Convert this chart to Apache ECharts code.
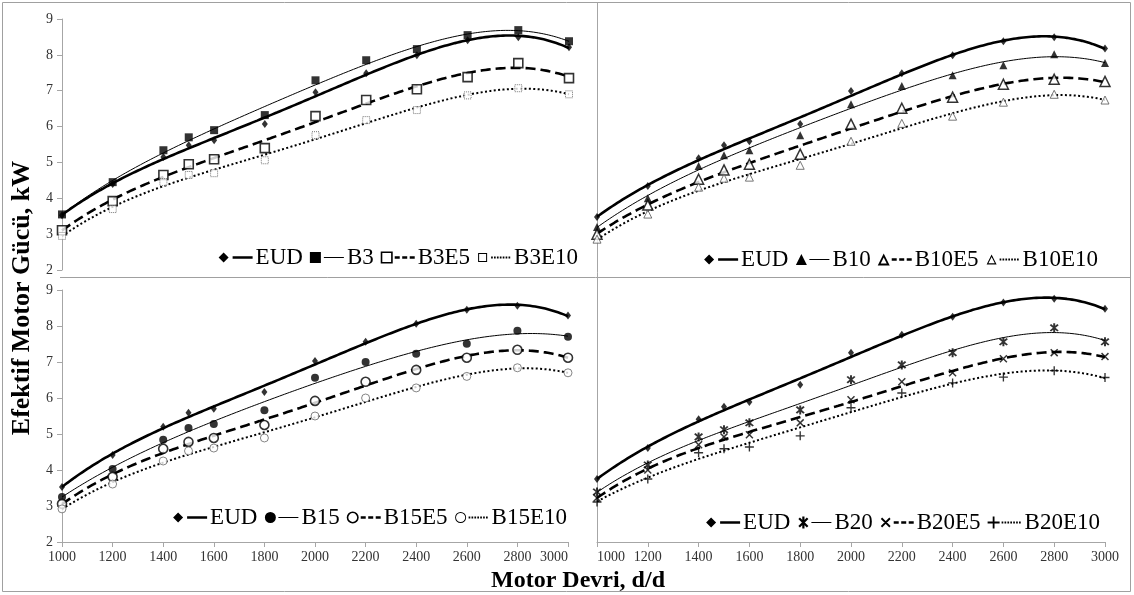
<!DOCTYPE html>
<html>
<head>
<meta charset="utf-8">
<script src="https://cdn.jsdelivr.net/npm/echarts@6/dist/echarts.min.js"></script>
<style>
  html, body { margin: 0; padding: 0; background: #fff; }
  #chart { width: 1134px; height: 595px; }
</style>
</head>
<body>
<div id="chart"></div>
<script>
// engine speed, d/d
const rpm = [1000, 1200, 1400, 1500, 1600, 1800, 2000, 2200, 2400, 2600, 2800, 3000];

// panel 1 - B3 blends
const eud1 = [3.53, 4.40, 5.15, 5.48, 5.62, 6.07, 6.96, 7.49, 7.99, 8.41, 8.49, 8.21];
const b3 = [3.55, 4.45, 5.34, 5.70, 5.90, 6.32, 7.29, 7.85, 8.16, 8.55, 8.69, 8.38];
const b3e5 = [3.11, 3.92, 4.65, 4.95, 5.09, 5.40, 6.29, 6.74, 7.04, 7.38, 7.77, 7.35];
const b3e10 = [2.95, 3.70, 4.45, 4.65, 4.70, 5.06, 5.76, 6.18, 6.46, 6.87, 7.07, 6.90];

// panel 2 - B10 blends
const eud2 = [3.48, 4.34, 5.12, 5.48, 5.59, 6.07, 6.99, 7.49, 7.99, 8.38, 8.49, 8.18];
const b10 = [3.20, 4.00, 4.90, 5.20, 5.34, 5.76, 6.62, 7.13, 7.43, 7.71, 8.02, 7.77];
const b10e5 = [3.00, 3.81, 4.53, 4.79, 4.95, 5.23, 6.07, 6.51, 6.82, 7.18, 7.32, 7.26];
const b10e10 = [2.86, 3.56, 4.31, 4.56, 4.59, 4.92, 5.59, 6.09, 6.29, 6.68, 6.90, 6.74];

// panel 3 - B15 blends
const eud3 = [3.53, 4.42, 5.20, 5.59, 5.70, 6.17, 7.03, 7.56, 8.06, 8.45, 8.56, 8.29];
const b15 = [3.25, 4.03, 4.84, 5.17, 5.28, 5.66, 6.56, 7.00, 7.23, 7.51, 7.87, 7.70];
const b15e5 = [3.06, 3.81, 4.59, 4.78, 4.89, 5.25, 5.92, 6.45, 6.78, 7.12, 7.34, 7.12];
const b15e10 = [2.92, 3.61, 4.25, 4.53, 4.61, 4.89, 5.50, 6.00, 6.28, 6.60, 6.84, 6.70];

// panel 4 - B20 blends
const eud4 = [3.75, 4.61, 5.41, 5.76, 5.89, 6.37, 7.26, 7.76, 8.26, 8.65, 8.76, 8.48];
const b20 = [3.39, 4.14, 4.92, 5.12, 5.31, 5.67, 6.51, 6.92, 7.26, 7.56, 7.95, 7.56];
const b20e5 = [3.22, 4.00, 4.70, 4.92, 4.98, 5.31, 5.95, 6.45, 6.70, 7.09, 7.26, 7.15];
const b20e10 = [3.11, 3.75, 4.48, 4.59, 4.64, 4.95, 5.73, 6.14, 6.42, 6.58, 6.76, 6.57];

const names1 = ['EUD', 'B3', 'B3E5', 'B3E10'];
const names2 = ['EUD', 'B10', 'B10E5', 'B10E10'];
const names3 = ['EUD', 'B15', 'B15E5', 'B15E10'];
const names4 = ['EUD', 'B20', 'B20E5', 'B20E10'];

// ---- trendline (polynomial, like the spreadsheet trendline) ----
const TREND_ORDER = 4;
function polyFit(xs, ys, deg) {
  const n = deg + 1;
  const A = [];
  for (let i = 0; i < n; i++) A.push(new Array(n + 1).fill(0));
  xs.forEach((x, k) => {
    const t = (x - 2000) / 1000;
    for (let i = 0; i < n; i++) {
      for (let j = 0; j < n; j++) A[i][j] += Math.pow(t, i + j);
      A[i][n] += ys[k] * Math.pow(t, i);
    }
  });
  for (let i = 0; i < n; i++) {
    let p = i;
    for (let r = i + 1; r < n; r++) if (Math.abs(A[r][i]) > Math.abs(A[p][i])) p = r;
    [A[i], A[p]] = [A[p], A[i]];
    for (let r = 0; r < n; r++) {
      if (r === i) continue;
      const f = A[r][i] / A[i][i];
      for (let c = i; c <= n; c++) A[r][c] -= f * A[i][c];
    }
  }
  return A.map((row, i) => row[n] / row[i]);
}

function trend(ys) {
  const c = polyFit(rpm, ys, TREND_ORDER);
  const out = [];
  for (let x = 1000; x <= 3000; x += 10) {
    const t = (x - 2000) / 1000;
    out.push([x, c.reduce((s, v, k) => s + v * Math.pow(t, k), 0)]);
  }
  return out;
}

// ---- marker shapes ----
const r2 = v => Math.round(v * 100) / 100;
function bar(cx, cy, len, th, deg) {
  const a = deg * Math.PI / 180, ca = Math.cos(a), sa = Math.sin(a);
  const pts = [[-len / 2, -th / 2], [len / 2, -th / 2], [len / 2, th / 2], [-len / 2, th / 2]]
    .map(([u, v]) => [r2(cx + u * ca - v * sa), r2(cy + u * sa + v * ca)]);
  return 'M' + pts.map(p => p.join(',')).join('L') + 'Z';
}
const sq = (x, y, s) => `M${x},${y}H${x + s}V${y + s}H${x}Z`;
const sqHole = (x, y, s) => `M${x},${y}V${y + s}H${x + s}V${y}Z`;
const tri = (cx, cy, s) => `M${cx},${cy - s / 2}L${cx + s / 2},${cy + s / 2}L${cx - s / 2},${cy + s / 2}Z`;
const triHole = (cx, cy, s) => `M${cx},${cy - s / 2}L${cx - s / 2},${cy + s / 2}L${cx + s / 2},${cy + s / 2}Z`;
const circ = (cx, cy, r) => `M${cx - r},${cy}A${r},${r},0,1,1,${cx + r},${cy}A${r},${r},0,1,1,${cx - r},${cy}Z`;
const circHole = (cx, cy, r) => `M${cx - r},${cy}A${r},${r},0,1,0,${cx + r},${cy}A${r},${r},0,1,0,${cx - r},${cy}Z`;
const asteriskPath = bar(6, 6, 12, 2.2, 45) + bar(6, 6, 12, 2.2, 135) + bar(6, 6, 12, 2.2, 90);
const crossPath = bar(6, 6, 12, 1.8, 45) + bar(6, 6, 12, 1.8, 135);
const plusPath = bar(6, 6, 12, 1.8, 0) + bar(6, 6, 12, 1.8, 90);

// chart markers
const markers = {
  diamond: { symbol: 'diamond', symbolSize: [6, 8], itemStyle: { color: '#000' } },
  square: { symbol: 'rect', symbolSize: 8, itemStyle: { color: '#000' } },
  squareOpen: { symbol: 'rect', symbolSize: 9, itemStyle: { color: '#fff', borderColor: '#000', borderWidth: 1.6 } },
  squareSmall: { symbol: 'rect', symbolSize: 7, itemStyle: { color: '#fff', borderColor: '#555', borderWidth: 1, borderType: 'dotted' } },
  triangle: { symbol: 'triangle', symbolSize: 8, itemStyle: { color: '#000' } },
  triangleOpen: { symbol: 'triangle', symbolSize: 10, itemStyle: { color: '#fff', borderColor: '#000', borderWidth: 1.5 } },
  triangleSmall: { symbol: 'triangle', symbolSize: 8, itemStyle: { color: '#fff', borderColor: '#555', borderWidth: 1 } },
  circle: { symbol: 'circle', symbolSize: 8, itemStyle: { color: '#000' } },
  circleOpen: { symbol: 'circle', symbolSize: 9, itemStyle: { color: '#fff', borderColor: '#000', borderWidth: 1.6 } },
  circleSmall: { symbol: 'circle', symbolSize: 8, itemStyle: { color: '#fff', borderColor: '#666', borderWidth: 1 } },
  asterisk: { symbol: 'path://' + asteriskPath, symbolSize: 9, itemStyle: { color: '#000' } },
  cross: { symbol: 'path://' + crossPath, symbolSize: 8, itemStyle: { color: '#000' } },
  plus: { symbol: 'path://' + plusPath, symbolSize: 9, itemStyle: { color: '#000' } }
};

// legend icon markers (12x12 box)
const iconMarks = {
  diamond: 'M5,1L10,6L5,11L0,6Z',
  square: sq(0, 0.5, 11),
  squareOpen: sq(0, 0, 12) + sqHole(1.6, 1.6, 8.8),
  squareSmall: sq(1, 1.5, 9) + sqHole(2, 2.5, 7),
  triangle: tri(6, 6, 11),
  triangleOpen: tri(6, 6, 12) + triHole(6, 7, 6),
  triangleSmall: tri(6, 6, 10) + triHole(6, 6.6, 6.4),
  circle: circ(6, 6, 5.5),
  circleOpen: circ(6, 6, 6) + circHole(6, 6, 4.4),
  circleSmall: circ(6, 6, 5.5) + circHole(6, 6, 4.6),
  asterisk: asteriskPath,
  cross: crossPath,
  plus: plusPath
};

function iconLine(kind) {
  if (kind === 0) return `M14,4.75H34V7.25H14Z`;
  if (kind === 1) return `M14,5.5H34V6.5H14Z`;
  if (kind === 2) return `M14,4.8H19V7.2H14Z M21.5,4.8H26.5V7.2H21.5Z M29,4.8H34V7.2H29Z`;
  let s = '';
  for (let x = 14; x < 34; x += 2.9) s += `M${r2(x)},5.1H${r2(x + 1.7)}V6.9H${r2(x)}Z`;
  return s;
}
const anchors = 'M0,0H0.01V0.01H0Z M33.99,11.99H34V12H33.99Z';

const lineStyles = [
  { width: 2.6, type: 'solid' },
  { width: 1, type: 'solid' },
  { width: 2.6, type: [10, 5] },
  { width: 2, type: [2, 2.4] }
];

const panels = [
  { names: names1, data: [eud1, b3, b3e5, b3e10], marks: ['diamond', 'square', 'squareOpen', 'squareSmall'] },
  { names: names2, data: [eud2, b10, b10e5, b10e10], marks: ['diamond', 'triangle', 'triangleOpen', 'triangleSmall'] },
  { names: names3, data: [eud3, b15, b15e5, b15e10], marks: ['diamond', 'circle', 'circleOpen', 'circleSmall'] },
  { names: names4, data: [eud4, b20, b20e5, b20e10], marks: ['diamond', 'asterisk', 'cross', 'plus'] }
];

const grids = [
  { left: 62, top: 19, width: 507, height: 251 },
  { left: 597, top: 19, width: 508, height: 251 },
  { left: 62, top: 290, width: 506, height: 252 },
  { left: 597, top: 290, width: 508, height: 252 }
];
const legendPos = [
  { right: 556, top: 246 },
  { right: 36, top: 248 },
  { right: 567, top: 506 },
  { right: 34, top: 511 }
];

const axisGrey = '#a6a6a6';
const serif = 'Liberation Serif';

const xAxes = grids.map((g, i) => {
  const bottom = i >= 2;
  return {
    type: 'value', gridIndex: i, min: 1000, max: 3000, interval: 200,
    axisLine: { show: bottom, lineStyle: { color: axisGrey } },
    axisTick: { show: bottom, length: 5, lineStyle: { color: axisGrey } },
    axisLabel: {
      show: bottom, fontFamily: serif, fontSize: 14, color: '#333', margin: 8,
      formatter: v => String(v),
      alignMaxLabel: i === 2 ? 'right' : 'center',
      alignMinLabel: i === 3 ? 'left' : 'center'
    },
    splitLine: { show: false }
  };
});
const yAxes = grids.map((g, i) => {
  const left = i % 2 === 0;
  return {
    type: 'value', gridIndex: i, min: 2, max: 9, interval: 1,
    axisLine: { show: left, lineStyle: { color: axisGrey } },
    axisTick: { show: left, length: 5, lineStyle: { color: axisGrey } },
    axisLabel: { show: left, fontFamily: serif, fontSize: 14, color: '#333', margin: 9 },
    splitLine: { show: false }
  };
});

const series = [];
const legends = [];
panels.forEach((p, pi) => {
  p.names.forEach((name, k) => {
    series.push({
      name: name, type: 'line', xAxisIndex: pi, yAxisIndex: pi,
      data: trend(p.data[k]), showSymbol: false, symbol: 'none',
      color: '#000', lineStyle: Object.assign({ color: '#000' }, lineStyles[k]),
      z: 2, silent: true
    });
  });
  p.names.forEach((name, k) => {
    const m = markers[p.marks[k]];
    series.push(Object.assign({
      name: name + ' pts', type: 'scatter', xAxisIndex: pi, yAxisIndex: pi,
      data: rpm.map((x, j) => [x, p.data[k][j]]), z: 3, silent: true
    }, m));
  });
  legends.push(Object.assign({
    orient: 'horizontal', padding: 0,
    itemWidth: 34, itemHeight: 12, itemGap: 7,
    selectedMode: false,
    itemStyle: { borderWidth: 0 },
    textStyle: { fontFamily: serif, fontSize: 23, color: '#000', padding: [0, 0, 0, -2] },
    data: p.names.map((name, k) => ({
      name: name,
      icon: 'path://' + anchors + iconMarks[p.marks[k]] + iconLine(k)
    }))
  }, legendPos[pi]));
});

const chart = echarts.init(document.getElementById('chart'));
chart.setOption({
  animation: false,
  backgroundColor: '#fff',
  grid: grids,
  xAxis: xAxes,
  yAxis: yAxes,
  legend: legends,
  series: series,
  graphic: [
    { type: 'rect', shape: { x: 2.5, y: 2.5, width: 1128, height: 589 }, style: { fill: 'none', stroke: '#a0a0a0', lineWidth: 1 }, silent: true },
    { type: 'line', shape: { x1: 60, y1: 277.5, x2: 1131, y2: 277.5 }, style: { stroke: '#a0a0a0', lineWidth: 1 }, silent: true },
    { type: 'line', shape: { x1: 597.5, y1: 2.5, x2: 597.5, y2: 542 }, style: { stroke: '#a6a6a6', lineWidth: 1 }, silent: true },
    { type: 'text', x: 22, y: 298, rotation: Math.PI / 2,
      style: { text: 'Efektif Motor Gücü, kW', font: 'bold 26px "Liberation Serif"', fill: '#000', align: 'center', verticalAlign: 'middle' } },
    { type: 'text', x: 578, y: 581,
      style: { text: 'Motor Devri, d/d', font: 'bold 24px "Liberation Serif"', fill: '#000', align: 'center', verticalAlign: 'middle' } }
  ]
});
</script>
</body>
</html>
